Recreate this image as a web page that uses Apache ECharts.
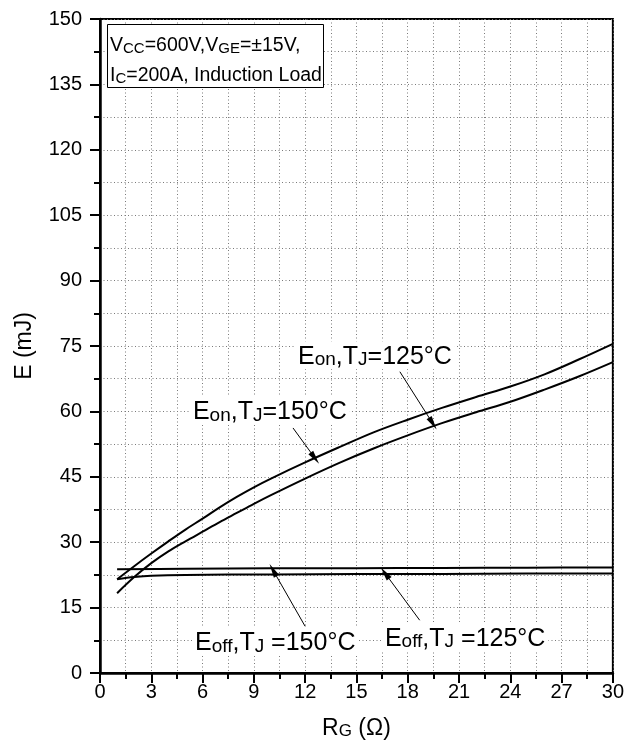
<!DOCTYPE html>
<html>
<head>
<meta charset="utf-8">
<script src="https://cdn.jsdelivr.net/npm/echarts@6/dist/echarts.min.js"></script>
<style>
  html, body { margin: 0; padding: 0; background: #fff; }
  #chart { width: 627px; height: 745px; }
</style>
</head>
<body>
<div id="chart"></div>
<script>
// Switching energy vs. gate resistance
const rgEon = [1, 2, 3, 4, 5, 6, 7, 8, 9, 10, 12, 14, 16, 18, 20, 22, 24, 26, 28, 30];
const eon150 = [21.5, 24.5, 27.4, 30.2, 32.9, 35.4, 38.0, 40.4, 42.6, 44.6, 48.3, 51.8, 55.2, 58.1, 60.8, 63.3, 65.7, 68.5, 71.9, 75.5];
const eon125 = [18.3, 22.0, 25.2, 27.9, 30.2, 32.4, 34.6, 36.7, 38.8, 40.8, 44.6, 48.2, 51.5, 54.5, 57.3, 59.8, 62.2, 65.0, 68.0, 71.3];

const rgEoff150 = [1, 5, 10, 15, 20, 25, 30];
const eoff150 = [23.8, 23.9, 24.0, 24.05, 24.1, 24.15, 24.2];
const rgEoff125 = [1, 2, 3, 5, 10, 15, 20, 25, 30];
const eoff125 = [21.5, 22.0, 22.3, 22.5, 22.6, 22.7, 22.7, 22.8, 22.8];

// Axis ranges and tick steps
const xRange = [0, 30];
const xStep = 3;
const yRange = [0, 150];
const yStep = 15;

// Curve captions: text, anchor [RG, E], horizontal anchor side
const captionText = [
  '{b|E}{s|on}{b|,T}{s|J}{b|=125°C}',
  '{b|E}{s|on}{b|,T}{s|J}{b|=150°C}',
  '{b|E}{s|off}{b|,T}{s|J}{b| =150°C}',
  '{b|E}{s|off}{b|,T}{s|J}{b| =125°C}'
];
const captionAnchor = [[20.76, 72.9], [5.26, 60.1], [5.38, 7.1], [16.49, 8.1]];
const captionSide = ['right', 'left', 'left', 'left'];

// Leader arrows: [from, to] in data units
const arrowFrom = [[17.54, 69.1], [11.29, 56.2], [12.0, 10.7], [18.7, 12.1]];
const arrowTo = [[19.47, 57.2], [12.57, 49.3], [10.12, 23.6], [16.67, 22.9]];

const conditionsText = '{b|V}{s|CC}{b|=600V,V}{s|GE}{b|=±15V,}\n{b|I}{s|C}{b|=200A, Induction Load}';

const FONT = '"Liberation Sans", Arial, Helvetica, sans-serif';

const pairs = (xs, ys) => xs.map((x, i) => [x, ys[i]]);

const chart = echarts.init(document.getElementById('chart'), null, { renderer: 'canvas' });

const gridLineStyle = { type: [1, 2.5], color: '#7a7a7a', width: 1 };

const lineSeries = (name, data) => ({
  name,
  type: 'line',
  data,
  smooth: 0.35,
  showSymbol: false,
  symbol: 'none',
  lineStyle: { color: '#000', width: 2 },
  itemStyle: { color: '#000' },
  silent: true,
  z: 3
});

const arrowData = arrowFrom.map((f, i) => [
  { coord: f, symbol: 'none' },
  { coord: arrowTo[i], symbol: 'triangle', symbolSize: [6, 14] }
]);

const series = [
  lineSeries('Eon 150', pairs(rgEon, eon150)),
  lineSeries('Eon 125', pairs(rgEon, eon125)),
  lineSeries('Eoff 150', pairs(rgEoff150, eoff150)),
  lineSeries('Eoff 125', pairs(rgEoff125, eoff125))
];
series[0].markLine = {
  silent: true,
  animation: false,
  symbol: ['none', 'triangle'],
  label: { show: false },
  lineStyle: { color: '#000', width: 1, type: 'solid' },
  itemStyle: { color: '#000' },
  emphasis: { disabled: true },
  data: arrowData,
  z: 6
};

const option = {
  animation: false,
  backgroundColor: '#fff',
  textStyle: { fontFamily: FONT },
  grid: {
    left: 100, top: 19, width: 513, height: 656,
    show: true, borderColor: '#000', borderWidth: 2, backgroundColor: 'transparent'
  },
  xAxis: {
    type: 'value',
    min: xRange[0], max: xRange[1], interval: xStep,
    name: '{b|R}{s|G}{b| (Ω)}',
    nameLocation: 'middle',
    nameGap: 41,
    nameTextStyle: {
      rich: {
        b: { fontSize: 23, fontFamily: FONT, color: '#000', verticalAlign: 'bottom', lineHeight: 26 },
        s: { fontSize: 17, fontFamily: FONT, color: '#000', verticalAlign: 'bottom', lineHeight: 22 }
      }
    },
    axisLine: { onZero: false, lineStyle: { color: '#000', width: 2.5 } },
    axisTick: { inside: false, length: 10, lineStyle: { color: '#000', width: 2 } },
    minorTick: { show: true, splitNumber: 2, length: 6, lineStyle: { color: '#000', width: 2 } },
    axisLabel: { fontSize: 20, color: '#000', margin: 9, fontFamily: FONT, showMaxLabel: true, showMinLabel: true },
    splitLine: { show: true, lineStyle: gridLineStyle },
    minorSplitLine: { show: true, lineStyle: gridLineStyle }
  },
  yAxis: {
    type: 'value',
    min: yRange[0], max: yRange[1], interval: yStep,
    name: 'E (mJ)',
    nameLocation: 'middle',
    nameGap: 64,
    nameTextStyle: { fontSize: 23, color: '#000', fontFamily: FONT },
    axisLine: { onZero: false, lineStyle: { color: '#000', width: 2.5 } },
    axisTick: { inside: false, length: 10, lineStyle: { color: '#000', width: 2 } },
    minorTick: { show: true, splitNumber: 2, length: 6, lineStyle: { color: '#000', width: 2 } },
    axisLabel: { fontSize: 20, color: '#000', margin: 18, fontFamily: FONT, showMaxLabel: true, showMinLabel: true },
    splitLine: { show: true, lineStyle: gridLineStyle },
    minorSplitLine: { show: true, lineStyle: gridLineStyle }
  },
  series
};

chart.setOption(option);

// Place captions and the conditions box once the scales exist
const captionRich = {
  b: { fontSize: 25, fontFamily: FONT, color: '#000', verticalAlign: 'bottom', lineHeight: 28 },
  s: { fontSize: 19, fontFamily: FONT, color: '#000', verticalAlign: 'bottom', lineHeight: 24 }
};
const boxRich = {
  b: { fontSize: 19.5, fontFamily: FONT, color: '#000', verticalAlign: 'bottom', lineHeight: 30 },
  s: { fontSize: 15, fontFamily: FONT, color: '#000', verticalAlign: 'bottom', lineHeight: 27 }
};

const graphics = captionText.map((t, i) => {
  const p = chart.convertToPixel({ gridIndex: 0 }, captionAnchor[i]);
  return {
    type: 'text',
    x: p[0], y: p[1],
    z: 10,
    silent: true,
    style: {
      text: t,
      rich: captionRich,
      align: captionSide[i],
      verticalAlign: 'middle',
      backgroundColor: '#fff',
      padding: [0, 3]
    }
  };
});

const gridRect = chart.getModel().getComponent('grid', 0).coordinateSystem.getRect();
graphics.push({
  type: 'rect',
  shape: { x: gridRect.x + 7.5, y: gridRect.y + 5.5, width: 216, height: 63 },
  style: { fill: '#fff', stroke: '#000', lineWidth: 1 },
  z: 10,
  silent: true
});
graphics.push({
  type: 'text',
  x: gridRect.x + 10,
  y: gridRect.y + 7,
  z: 11,
  silent: true,
  style: { text: conditionsText, rich: boxRich, align: 'left', verticalAlign: 'top' }
});

chart.setOption({ graphic: graphics });
</script>
</body>
</html>
